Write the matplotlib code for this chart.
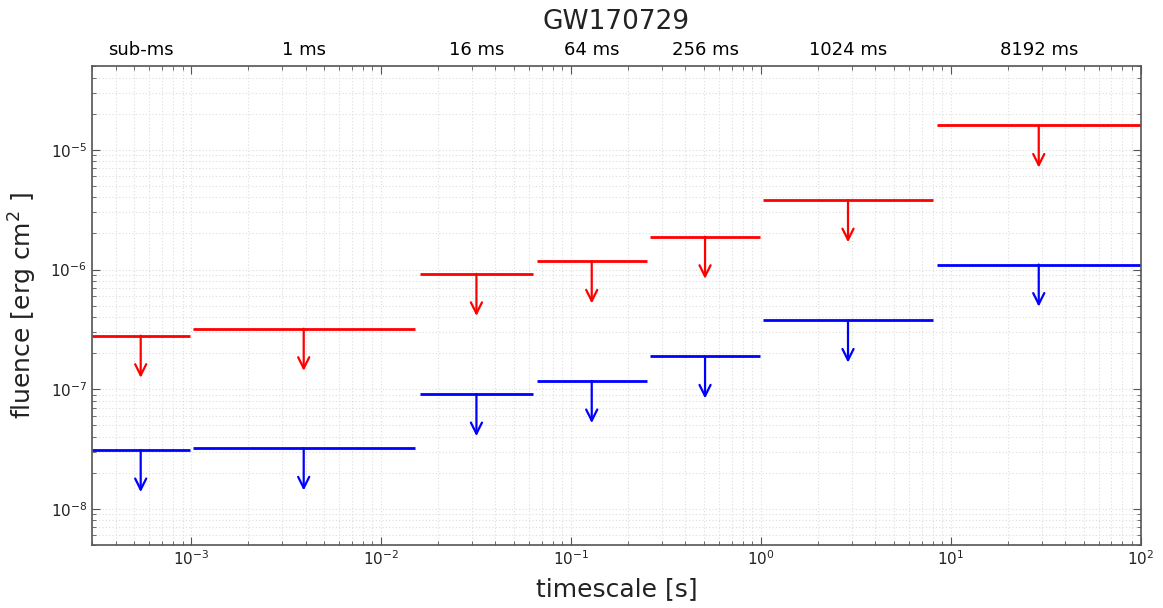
import numpy as np
import matplotlib
matplotlib.use('Agg')
import matplotlib.pyplot as plt
import matplotlib.transforms as mtransforms

"""data read off the picture"""
bin_names = ['sub-ms', '1 ms', '16 ms', '64 ms', '256 ms', '1024 ms', '8192 ms']
t_lo = [3.0e-4, 1.02e-3, 1.6e-2, 6.6e-2, 0.26, 1.03, 8.4]
t_hi = [0.98e-3, 1.5e-2, 6.3e-2, 0.25, 0.99, 8.0, 100.0]
fluence_red = [2.8e-7, 3.2e-7, 9.2e-7, 1.17e-6, 1.88e-6, 3.8e-6, 1.6e-5]
fluence_blue = [3.1e-8, 3.2e-8, 9.1e-8, 1.17e-7, 1.88e-7, 3.75e-7, 1.1e-6]

txt_col = '#222222'
arrow_drop = 2.25  # arrow length as a factor in fluence

fig = plt.figure(figsize=(11.63, 6.08), dpi=100)
ax = fig.add_axes([0.079, 0.104, 0.902, 0.787])
ax.set_xscale('log')
ax.set_yscale('log')
ax.set_xlim(3e-4, 1e2)
ax.set_ylim(5e-9, 5e-5)

def DrawLimits(values, col):
    for lo, hi, f in zip(t_lo, t_hi, values):
        ax.hlines(f, lo, hi, color=col, linewidth=2)
        tmid = np.sqrt(lo*hi)
        ax.annotate('', xy=(tmid, f/arrow_drop), xytext=(tmid, f),
                    arrowprops=dict(arrowstyle='->', color=col, lw=1.6,
                                    mutation_scale=20, shrinkA=0, shrinkB=0))

DrawLimits(fluence_red, 'red')
DrawLimits(fluence_blue, 'blue')

# bin labels above the axes
trans = mtransforms.blended_transform_factory(ax.transData, ax.transAxes)
for lo, hi, name in zip(t_lo, t_hi, bin_names):
    ax.text(np.sqrt(lo*hi), 1.015, name, transform=trans, ha='center', va='bottom',
            fontsize=13, color='black')

ax.set_title('GW170729', fontsize=19, color=txt_col, pad=27)
ax.set_xlabel('timescale [s]', fontsize=18, color=txt_col, labelpad=6)
ax.set_ylabel('fluence [erg cm$^{2}$ ]', fontsize=18, color=txt_col, labelpad=8)

ax.grid(True, which='both', linestyle=(0, (1, 2)), color='#dddddd', linewidth=0.8)
ax.set_axisbelow(True)
ax.tick_params(which='both', direction='in', top=True, right=True, colors='#555555',
               labelcolor=txt_col, labelsize=11)
ax.tick_params(which='major', length=6)
ax.tick_params(which='minor', length=3)
for s in ax.spines.values():
    s.set_color('#555555')
    s.set_linewidth(1.2)

plt.savefig('out.png', dpi=100)
